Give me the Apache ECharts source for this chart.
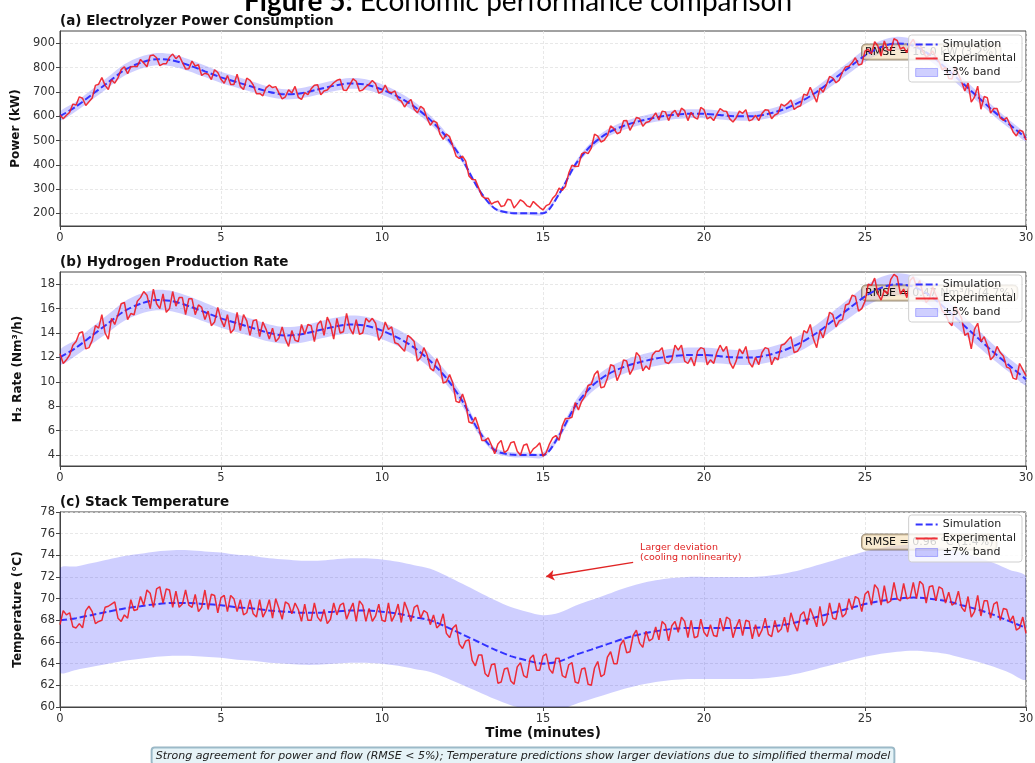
<!DOCTYPE html>
<html><head><meta charset="utf-8">
<script src="https://cdn.jsdelivr.net/npm/echarts@6/dist/echarts.min.js"></script>
<style>html,body{margin:0;padding:0;background:#fff}#c{width:1035px;height:763px}</style>
</head><body><div id="c"></div>
<script>
// ---- Simulation values, every 0.5 min from 0 to 30 ----
const powerSim = [600,640,690,740,790,820,835,830,810,785,760,740,720,700,690,695,710,725,735,730,710,680,640,585,515,420,300,220,202,200,200,280,400,480,530,560,580,595,605,610,610,605,600,600,610,630,660,700,750,800,850,885,900,890,855,800,740,680,620,565,510];
const h2Sim = [12.0,12.8,13.8,14.8,15.8,16.4,16.7,16.6,16.2,15.7,15.2,14.8,14.4,14.0,13.8,13.9,14.2,14.5,14.7,14.6,14.2,13.6,12.8,11.7,10.3,8.4,6.0,4.4,4.04,4.0,4.0,5.6,8.0,9.6,10.6,11.2,11.6,11.9,12.1,12.2,12.2,12.1,12.0,12.0,12.2,12.6,13.2,14.0,15.0,16.0,17.0,17.7,18.0,17.8,17.1,16.0,14.8,13.6,12.4,11.3,10.2];
const tempSim = [68.0,68.2,68.5,68.8,69.1,69.3,69.5,69.6,69.6,69.5,69.4,69.2,69.1,68.9,68.8,68.7,68.7,68.8,68.9,68.9,68.8,68.6,68.3,68.0,67.4,66.7,66.0,65.3,64.7,64.3,64.0,64.2,64.8,65.3,65.8,66.3,66.7,67.0,67.2,67.3,67.3,67.3,67.3,67.3,67.4,67.6,67.9,68.3,68.7,69.1,69.5,69.8,70.0,70.1,70.0,69.8,69.4,69.0,68.5,67.9,67.3];

// ---- Experimental values at t = 0, 0.2, 0.4 ... 30 min ----
const powerExp = [605,604,650,680,644,675,732,727,750,758,
804,804,805,819,849,841,816,843,837,822,
796,807,768,773,791,752,768,731,723,757,
729,694,717,718,696,680,696,678,697,713,
730,704,723,748,708,729,744,708,732,734,
701,701,704,662,657,629,641,592,581,526,
527,477,426,415,340,305,262,238,250,232,
255,238,247,226,236,214,238,276,295,366,
393,445,446,526,494,520,549,534,582,567,
591,574,594,585,618,613,598,623,616,588,
627,597,609,622,589,594,612,581,604,611,
625,605,650,653,628,643,686,688,716,729,
757,749,803,820,811,868,857,889,910,872,
912,884,898,884,865,852,842,791,755,804,
742,737,679,629,676,632,593,595,535,543,
502];
// ---- Experimental values at t = 0.1, 0.3, 0.5 ... 29.9 min ----
const powerExpMid = [590,616,646,674,660,727,759,710,736,792,
775,805,834,804,852,808,816,856,850,795,
827,812,777,751,780,736,731,773,710,748,
693,684,728,722,671,709,723,669,689,728,
688,708,738,752,706,754,704,722,747,695,
728,697,670,638,669,614,630,563,574,505,
516,436,436,354,338,272,262,246,228,258,
222,256,231,249,224,232,262,304,312,398,
394,452,469,518,501,560,528,581,542,595,
559,578,614,621,582,624,633,582,595,636,
589,582,631,620,576,621,627,586,582,627,
590,612,642,667,638,691,719,658,699,764,
738,782,806,841,815,876,907,848,874,919,
877,862,917,898,844,869,824,802,753,773,
704,658,724,681,613,632,583,566,519,537];

const h2Exp = [12.3,11.8,13.0,14.0,12.7,13.4,14.4,14.0,15.2,15.5,
16.5,15.6,16.6,17.4,16.0,16.4,17.2,16.0,16.2,16.9,
16.8,15.5,16.1,15.8,14.9,15.1,15.5,14.3,14.2,15.0,
15.0,13.7,14.3,14.4,13.6,13.5,14.2,13.3,13.9,14.6,
14.7,13.8,14.7,15.2,14.1,14.4,15.1,14.0,14.9,14.8,
13.8,14.3,13.2,12.8,13.8,13.3,12.0,12.2,10.9,11.3,
10.0,9.9,8.3,8.2,6.6,6.3,5.2,4.8,4.9,4.2,
5.0,4.3,4.8,4.1,4.7,3.9,4.9,5.6,6.4,7.0,
8.3,8.4,9.7,10.6,9.5,10.3,11.3,10.7,11.7,11.1,
12.1,11.3,12.2,12.5,11.6,11.8,12.6,11.7,12.0,12.5,
12.7,11.8,12.4,12.5,11.6,11.7,12.3,11.6,12.0,12.4,
12.7,12.0,13.0,13.4,12.4,12.9,14.0,13.5,14.2,14.6,
15.5,15.0,16.3,17.1,15.8,16.6,17.9,17.2,17.5,18.4,
18.6,17.6,18.3,17.8,17.2,16.8,17.1,15.8,14.9,16.2,
15.2,14.0,14.3,13.3,13.0,12.1,12.4,11.2,10.3,11.5,
10.5];
const h2ExpMid = [11.5,12.2,13.3,14.1,12.8,14.6,15.5,13.5,14.7,16.4,
15.1,15.5,16.9,17.1,17.6,16.0,15.7,17.4,16.9,15.5,
16.8,16.3,15.1,14.6,16.1,14.5,14.0,15.7,15.5,13.8,
15.1,14.9,13.5,13.3,14.5,12.9,13.4,14.7,14.7,13.3,
15.0,15.3,13.5,14.0,15.6,13.9,13.9,15.2,15.2,13.4,
14.9,14.5,13.1,12.5,13.6,11.7,12.8,11.1,11.9,9.9,
10.6,8.4,9.0,6.7,7.1,5.2,5.4,4.1,5.2,4.4,
5.1,4.0,4.9,4.5,5.0,4.2,5.4,5.2,7.0,7.1,
7.7,8.8,9.8,10.9,9.6,11.4,10.1,11.8,10.6,12.4,
10.9,11.0,12.5,12.8,11.5,13.0,13.0,11.5,11.3,12.8,
11.4,11.5,13.0,12.9,11.1,12.7,12.9,11.2,11.4,12.8,
11.4,11.8,13.1,13.7,12.5,14.2,14.7,12.8,13.6,15.7,
14.5,15.1,16.4,17.0,16.0,18.0,18.5,16.7,17.2,18.8,
17.2,16.9,18.6,18.3,16.5,17.8,16.6,15.6,14.6,15.7,
13.8,12.7,14.8,13.7,11.8,12.9,12.1,11.1,10.2,11.0];

const tempExp = [67.6,68.5,67.4,67.7,68.9,68.8,67.9,69.2,69.5,68.2,
68.5,69.9,69.0,69.4,70.5,70.9,69.6,70.8,70.7,69.5,
69.4,70.4,69.2,69.0,70.3,70.1,68.8,70.0,69.9,68.7,
68.6,69.9,68.9,68.2,69.1,69.7,68.6,69.0,69.5,68.0,
68.3,69.0,68.1,68.5,69.6,68.9,67.9,69.4,69.1,68.4,
68.0,69.6,68.5,67.8,68.9,69.2,68.2,68.7,68.5,67.6,
66.8,67.3,65.8,66.1,64.3,64.8,63.1,63.9,62.2,63.5,
62.4,63.7,62.9,64.5,63.4,64.7,63.5,64.5,62.9,63.9,
62.3,63.5,62.1,63.6,62.8,64.6,64.0,65.7,65.0,66.6,
65.9,67.0,66.3,66.2,67.6,67.5,66.9,67.9,68.0,66.5,
66.9,67.6,66.5,67.0,68.1,67.4,66.6,67.9,67.6,67.1,
66.7,68.0,67.2,66.9,67.7,68.5,67.6,68.3,69.3,67.9,
68.2,69.6,68.6,69.0,70.0,70.4,69.4,70.9,71.2,69.8,
70.0,71.4,70.1,70.0,71.3,71.1,69.8,70.9,70.6,69.6,
69.2,70.2,68.8,68.4,69.8,69.5,68.0,69.0,68.4,67.3,
66.8];
const tempExpMid = [68.9,68.7,67.3,67.3,69.3,67.7,68.0,69.3,69.7,67.9,
68.2,68.9,70.2,70.8,69.2,71.1,70.9,69.2,69.2,70.8,
69.2,68.8,70.8,70.4,68.7,70.3,70.3,68.8,68.5,69.9,
68.3,68.3,69.9,70.0,68.1,69.5,69.6,67.9,68.0,69.6,
67.9,67.7,69.6,69.4,68.1,69.6,69.8,67.9,67.9,69.5,
67.9,67.9,69.5,69.7,67.9,69.4,68.9,67.6,67.3,68.6,
66.4,67.6,65.4,66.2,63.8,64.8,62.8,64.0,62.3,63.6,
62.1,64.1,62.7,64.8,63.4,64.9,63.1,64.5,62.7,64.1,
62.2,63.6,62.0,64.2,63.0,65.1,64.0,66.2,65.1,67.1,
65.5,66.1,67.4,67.9,66.1,67.9,68.3,66.4,66.4,68.1,
66.5,66.6,68.2,68.3,66.4,68.1,68.0,66.3,66.5,68.2,
66.5,66.9,68.3,68.7,67.0,68.8,69.1,67.4,67.5,69.6,
68.1,68.3,70.0,70.2,68.8,70.7,71.3,69.4,69.6,71.5,
69.8,70.0,71.5,71.6,69.6,71.2,71.1,69.6,69.4,70.7,
68.8,68.3,70.3,69.8,68.2,69.7,69.1,67.9,67.1,68.3];

// ---- Tick labels ----
const xTicks = [0,5,10,15,20,25,30];
const powerTicks = [200,300,400,500,600,700,800,900];
const h2Ticks = [4,6,8,10,12,14,16,18];
const tempTicks = [60,62,64,66,68,70,72,74,76,78];

const SIM_STEP = 0.5, EXP_STEP = 0.2;
const FONT = 'DejaVu Sans';

function expPairs(even, mid) {
  const out = [];
  even.forEach((v, j) => {
    out.push([j * EXP_STEP, v]);
    if (j < mid.length) out.push([j * EXP_STEP + EXP_STEP / 2, mid[j]]);
  });
  return out;
}

const panels = [
  {sim: powerSim, exp: powerExp, mid: powerExpMid, pct: 0.03, bandName: '±3% band', ticks: powerTicks, min: 148, max: 951,
   top: 31, height: 195, yName: 'Power (kW)', title: '(a) Electrolyzer Power Consumption',
   rmse: 'RMSE = 16.0 kW (3.2%)', rmseY: 52, legendTop: 35},
  {sim: h2Sim, exp: h2Exp, mid: h2ExpMid, pct: 0.05, bandName: '±5% band', ticks: h2Ticks, min: 3.1, max: 19.0,
   top: 272, height: 194, yName: 'H\u2082 Rate (Nm\u00b3/h)', title: '(b) Hydrogen Production Rate',
   rmse: 'RMSE = 0.47 Nm\u00b3/h (4.7%)', rmseY: 293, legendTop: 275},
  {sim: tempSim, exp: tempExp, mid: tempExpMid, pct: 0.07, bandName: '±7% band', ticks: tempTicks, min: 60, max: 78,
   top: 512, height: 195, yName: 'Temperature (\u00b0C)', title: '(c) Stack Temperature',
   rmse: 'RMSE = 0.96 \u00b0C (1.4%)', rmseY: 542, legendTop: 515}
];

const BAND_COLOR = 'rgba(0,0,255,0.19)';
const grids = [], xAxes = [], yAxes = [], series = [], legends = [], titles = [], graphics = [];

panels.forEach((p, i) => {
  grids.push({left: 60, width: 966, top: p.top, height: p.height, show: true,
    borderColor: '#444', borderWidth: 1, backgroundColor: '#fff', outerBoundsMode: 'none', containLabel: false});
  xAxes.push({type: 'value', gridIndex: i, min: 0, max: 30, interval: 5,
    axisLine: {show: true, lineStyle: {color: '#444', width: 1}},
    axisTick: {show: true, length: 4, lineStyle: {color: '#444'}},
    axisLabel: {color: '#333', fontSize: 11.5, fontFamily: FONT, margin: 6},
    splitLine: {show: true, lineStyle: {color: '#e2e2e2', type: [3, 2], width: 0.8}},
    name: i === 2 ? 'Time (minutes)' : '', nameLocation: 'middle', nameGap: 19,
    nameTextStyle: {fontSize: 13.5, fontWeight: 'bold', fontFamily: FONT, color: '#111'}
  });
  const yA = {type: 'value', gridIndex: i, min: p.min, max: p.max,
    axisLine: {show: true, lineStyle: {color: '#444', width: 1}},
    axisTick: {show: true, length: 4, lineStyle: {color: '#444'}, customValues: p.ticks},
    axisLabel: {color: '#333', fontSize: 11.5, fontFamily: FONT, margin: 5, customValues: p.ticks},
    splitLine: {show: true, lineStyle: {color: '#e2e2e2', type: [3, 2], width: 0.8}},
    name: p.yName, nameLocation: 'middle', nameGap: 36, nameRotate: 90,
    nameTextStyle: {fontSize: 12, fontWeight: 'bold', fontFamily: FONT, color: '#111'}
  };
  if (i === 2) { delete yA.axisTick.customValues; delete yA.axisLabel.customValues; yA.interval = 2; }
  yAxes.push(yA);

  const sim = p.sim, pct = p.pct;
  series.push({type: 'custom', name: p.bandName, xAxisIndex: i, yAxisIndex: i, silent: true, z: 1, clip: true,
    data: [0],
    renderItem: (params, api) => {
      const up = sim.map((v, j) => api.coord([j * SIM_STEP, v * (1 + pct)]));
      const lo = sim.map((v, j) => api.coord([j * SIM_STEP, v * (1 - pct)])).reverse();
      return {type: 'group', children: [
        {type: 'polygon', shape: {points: up.concat(lo), smooth: 0.3}, style: {fill: BAND_COLOR}}
      ]};
    }});
  series.push({type: 'line', name: 'Simulation', xAxisIndex: i, yAxisIndex: i,
    data: sim.map((v, j) => [j * SIM_STEP, v]),
    smooth: 0.3, symbol: 'none', silent: true, itemStyle: {color: '#3333ff'},
    lineStyle: {color: '#3333ff', width: 2, type: [7, 3]}, z: 3});
  const expS = {type: 'line', name: 'Experimental', xAxisIndex: i, yAxisIndex: i, data: expPairs(p.exp, p.mid),
    symbol: 'none', silent: true, itemStyle: {color: '#f01a22'},
    lineStyle: {color: '#f01a22', width: 1.5, opacity: 0.9}, z: 4};
  if (i === 2) {
    expS.markLine = {silent: true, symbol: ['none', 'arrow'], symbolSize: 8,
      lineStyle: {color: '#e02424', width: 1.5, type: 'solid'}, label: {show: false},
      data: [[{coord: [17.8, 73.35]}, {coord: [15.1, 72.05]}]]};
    expS.markPoint = {silent: true, symbol: 'circle', symbolSize: 1, itemStyle: {color: 'rgba(0,0,0,0)'},
      label: {show: true, position: 'right', distance: 0, formatter: 'Larger deviation\n(cooling nonlinearity)',
        color: '#e02424', fontSize: 9.5, lineHeight: 10.5, fontFamily: FONT},
      data: [{coord: [18.0, 74.25]}]};
  }
  series.push(expS);

  legends.push({orient: 'vertical', right: 13, top: p.legendTop, z: 5, itemGap: 3,
    itemWidth: 22, itemHeight: 8, padding: [4, 6, 4, 6],
    backgroundColor: 'rgba(255,255,255,0.8)', borderColor: '#cfcfcf', borderWidth: 1, borderRadius: 3,
    textStyle: {fontSize: 11, fontFamily: FONT, color: '#222'}, selectedMode: false,
    data: [{name: 'Simulation', itemStyle: {opacity: 0}},
      {name: 'Experimental', itemStyle: {opacity: 0}},
      {name: p.bandName, icon: 'rect', itemStyle: {color: BAND_COLOR, borderColor: 'rgba(0,0,255,0.25)', borderWidth: 1, opacity: 1}}]});

  titles.push({text: p.title, left: 60, top: p.top - 17, padding: 0,
    textStyle: {fontSize: 13.5, fontWeight: 'bold', fontFamily: FONT, color: '#111'}});

  graphics.push({type: 'text', z: 3, x: 862, y: p.rmseY, style: {
    text: p.rmse, fontSize: 11, fontFamily: FONT, fill: '#111', verticalAlign: 'middle',
    backgroundColor: 'rgba(245,222,179,0.6)', borderColor: 'rgba(90,70,40,0.6)', borderWidth: 1,
    borderRadius: 4, padding: [2, 3]}});
});

graphics.push({type: 'text', z: 10, x: 518, y: 2, style: {
  text: '{b|Figure 5:} Economic performance comparison', align: 'center', verticalAlign: 'middle',
  fontSize: 28, fontFamily: 'Lato', fill: '#000',
  rich: {b: {fontSize: 28, fontFamily: 'Lato', fontWeight: 'bold', fill: '#000'}}}});
graphics.push({type: 'text', z: 10, x: 523, y: 756, style: {
  text: 'Strong agreement for power and flow (RMSE < 5%); Temperature predictions show larger deviations due to simplified thermal model',
  align: 'center', verticalAlign: 'middle', fontSize: 11, fontStyle: 'italic', fontFamily: FONT, fill: '#222',
  backgroundColor: 'rgba(173,216,230,0.3)', borderColor: 'rgba(110,150,170,0.7)', borderWidth: 1,
  borderRadius: 3, padding: [3, 4]}});

const chart = echarts.init(document.getElementById('c'), null, {renderer: 'canvas'});
chart.setOption({animation: false, backgroundColor: '#fff', title: titles, grid: grids,
  xAxis: xAxes, yAxis: yAxes, legend: legends, series: series, graphic: graphics});
</script></body></html>
